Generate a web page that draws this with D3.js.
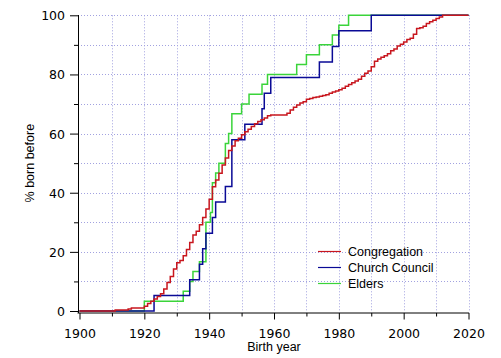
<!DOCTYPE html>
<html><head><meta charset="utf-8">
<script src="https://cdn.jsdelivr.net/npm/d3@7"></script>
<style>
body{margin:0;background:#fff;}
svg{display:block;}
</style></head>
<body>
<svg id="chart" width="501" height="358"></svg>
<script>
// ---- data ----
const seriesNames = ["Congregation", "Church Council", "Elders"];
const seriesColors = ["#c8161e", "#0a0a96", "#3ad43a"];

const congregationYears = [1900,1911,1915,1916,1920,1921,1922,1923,1924,1925,1926,1927,1928,1929,1930,1931,1932,1933,1934,1935,1936,1937,1938,1939,1940,1941,1942,1943,1944,1945,1946,1947,1948,1949,1950,1951,1952,1953,1954,1955,1956,1957,1958,1959,1964,1965,1966,1967,1968,1969,1970,1971,1972,1973,1974,1975,1976,1977,1978,1979,1980,1981,1982,1983,1984,1985,1986,1987,1988,1989,1990,1991,1992,1993,1994,1995,1996,1997,1998,1999,2000,2001,2002,2003,2004,2005,2006,2007,2008,2009,2010,2011,2012,2020];
const congregationPct = [0,0.3,0.7,1.0,1.6,2.5,3.3,4.1,4.9,5.8,7.4,9.6,11.7,14.2,16.3,17.1,18.7,20.8,23.2,25.7,27.0,29.2,31.6,34.5,37.8,42.0,44.3,46.6,49.4,51.7,54.3,55.8,57.6,58.4,59.6,60.6,61.5,62.4,63.3,64.1,64.7,65.3,66.0,66.3,66.9,68.0,68.9,69.7,70.3,70.8,71.6,71.9,72.2,72.4,72.6,72.9,73.1,73.6,74.1,74.4,74.8,75.3,76.0,76.6,77.2,77.8,78.4,79.4,80.4,81.2,82.6,84.5,85.2,85.8,86.3,87.0,88.0,88.6,89.6,90.2,91.0,91.8,92.2,93.6,95.5,95.8,96.3,97.2,97.8,98.3,98.9,99.4,100,100];

const councilYears = [1900,1923,1934,1937,1938,1939,1941,1942,1945,1947,1951,1956.3,1957,1959,1974,1978,1980,1990,2020];
const councilPct = [0,5.26,10.53,15.79,21.05,26.32,31.58,36.84,42.11,57.89,63.16,68.42,73.68,78.95,84.21,89.47,94.74,100,100];

const eldersYears = [1900,1920,1932,1934,1935,1937,1939,1940.4,1941,1942,1943,1945,1946,1947,1950,1952.3,1956.3,1958,1967,1970,1974,1978,1980,1983,2020];
const eldersPct = [0,3.33,6.67,10,13.33,16.67,30,33.33,43.33,46.67,50,56.67,60,66.67,70,73.33,76.67,80,83.33,86.67,90,93.33,96.67,100,100];

const xMajorTicks = [1900,1920,1940,1960,1980,2000,2020];
const xMinorTicks = [1910,1930,1950,1970,1990,2010];
const yMajorTicks = [0,20,40,60,80,100];
const yMinorTicks = [10,30,50,70,90];
const xTitle = "Birth year";
const yTitle = "% born before";

// ---- drawing ----
const svg = d3.select("#chart");
const x = d3.scaleLinear().domain([1900, 2020]).range([79.5, 468.5]);
const y = d3.scaleLinear().domain([0, 100]).range([311, 15.3]);
const axisX = 78, axisY = 312.5;

// grid
const grid = svg.append("g").attr("stroke", "#a2a2e0").attr("stroke-width", 1).attr("stroke-dasharray", "1,2");
grid.selectAll("line.v").data(xMajorTicks.concat(xMinorTicks).filter(d => d > 1900))
  .join("line").attr("class", "v")
  .attr("x1", d => Math.round(x(d)) + 0.5).attr("x2", d => Math.round(x(d)) + 0.5)
  .attr("y1", y(100)).attr("y2", axisY);
grid.selectAll("line.h").data(yMajorTicks.concat(yMinorTicks).filter(d => d > 0))
  .join("line").attr("class", "h")
  .attr("x1", axisX).attr("x2", x(2020) + 0.5)
  .attr("y1", d => Math.round(y(d)) + 0.5).attr("y2", d => Math.round(y(d)) + 0.5);

// series (draw order: Elders, Council, Congregation)
const series = [
  {years: eldersYears, pct: eldersPct, color: seriesColors[2]},
  {years: councilYears, pct: councilPct, color: seriesColors[1]},
  {years: congregationYears, pct: congregationPct, color: seriesColors[0]}
];
const line = d3.line().curve(d3.curveStepAfter).x(d => x(d[0])).y(d => y(d[1]));
series.forEach(s => {
  svg.append("path")
    .datum(s.years.map((yr, i) => [yr, s.pct[i]]))
    .attr("fill", "none").attr("stroke", s.color).attr("stroke-width", 1.5)
    .attr("d", line);
});

// axes
const tickFont = "'DejaVu Sans', sans-serif";
const gx = svg.append("g").attr("transform", `translate(0,${axisY})`)
  .call(d3.axisBottom(x).tickValues(xMajorTicks).tickSize(7).tickSizeOuter(0).tickFormat(d3.format("d")));
const gxm = svg.append("g").attr("transform", `translate(0,${axisY})`)
  .call(d3.axisBottom(x).tickValues(xMinorTicks).tickSize(4).tickSizeOuter(0).tickFormat(""));
gxm.select(".domain").remove();
gx.select(".domain").attr("d", `M${axisX - 0.5},0.5H${x(2020) + 0.5}`).attr("stroke", "#000");
gx.selectAll(".tick line").attr("stroke", "#000").attr("y1", 0.5);
gxm.selectAll(".tick line").attr("stroke", "#000").attr("y1", 0.5);
gx.selectAll(".tick text").attr("y", 0).attr("dy", "25.5px")
  .attr("font-family", tickFont).attr("font-size", "12.5px").attr("fill", "#000");

const gy = svg.append("g").attr("transform", `translate(${axisX},0)`)
  .call(d3.axisLeft(y).tickValues(yMajorTicks).tickSize(8).tickSizeOuter(0).tickFormat(d3.format("d")));
const gym = svg.append("g").attr("transform", `translate(${axisX},0)`)
  .call(d3.axisLeft(y).tickValues(yMinorTicks).tickSize(4).tickSizeOuter(0).tickFormat(""));
gym.select(".domain").remove();
gy.select(".domain").attr("d", `M0.5,${y(100) - 0.3}V${axisY + 0.5}`).attr("stroke", "#000");
gy.selectAll(".tick line").attr("stroke", "#000").attr("x1", 0.5);
gym.selectAll(".tick line").attr("stroke", "#000").attr("x1", 0.5);
gy.selectAll(".tick text").attr("x", -13).attr("dy", "0.36em")
  .attr("font-family", tickFont).attr("font-size", "12.5px").attr("fill", "#000");

// titles
const titleFont = "'Liberation Sans', Arial, sans-serif";
svg.append("text").attr("x", (x(1900) + x(2020)) / 2).attr("y", 351)
  .attr("text-anchor", "middle").attr("font-family", titleFont).attr("font-size", "12.5px").text(xTitle);
svg.append("text").attr("transform", `translate(34,${(y(0) + y(100)) / 2}) rotate(-90)`)
  .attr("text-anchor", "middle").attr("font-family", titleFont).attr("font-size", "12.5px").text(yTitle);

// legend
const legend = svg.append("g").attr("transform", "translate(318,251)");
seriesNames.forEach((name, i) => {
  const g = legend.append("g").attr("transform", `translate(0,${i * 16})`);
  g.append("line").attr("x1", 0).attr("x2", 23).attr("y1", 0.5).attr("y2", 0.5)
    .attr("stroke", seriesColors[i]).attr("stroke-width", 1.2);
  g.append("text").attr("x", 30).attr("y", 0).attr("dy", "0.36em")
    .attr("font-family", titleFont).attr("font-size", "12.5px").text(name);
});
</script>
</body></html>
